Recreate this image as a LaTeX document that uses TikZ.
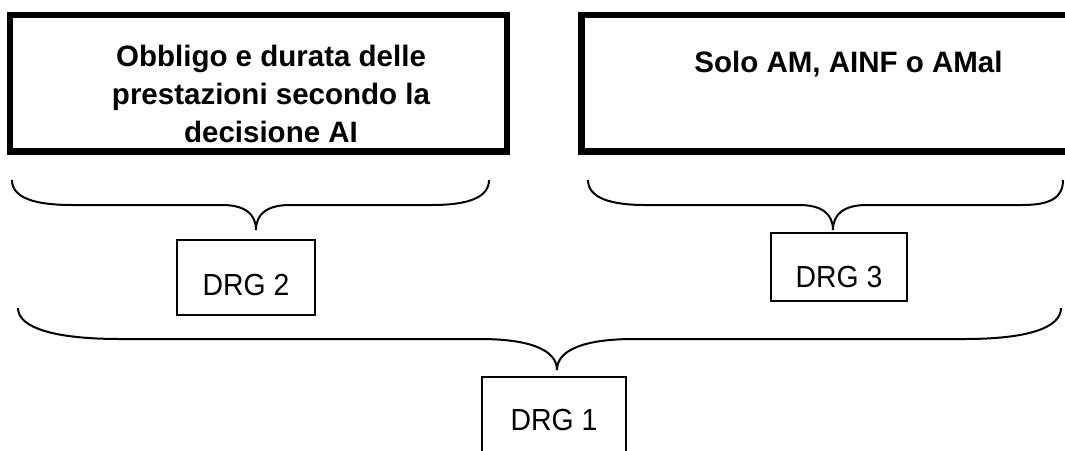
\documentclass[tikz,border=0pt]{standalone}
\usepackage{fontspec}
\setmainfont{Liberation Sans}
\newfontfamily\drgfont[FakeStretch=0.93]{Liberation Sans}
\begin{document}
\begin{tikzpicture}[x=1pt,y=-1pt,
  bigbox/.style={draw, line width=6.5pt, inner sep=0pt},
  drgbox/.style={draw, line width=1.8pt, inner sep=0pt, font=\drgfont\fontsize{30.5}{36}\selectfont},
  bracepath/.style={line width=2pt},
  headtext/.style={font=\bfseries\fontsize{29.5}{38}\selectfont, align=center, inner sep=0pt}]
\useasboundingbox (0,0) rectangle (1065,450);
\clip (0,0) rectangle (1065,450);
% big boxes
\node[bigbox, minimum width=497pt, minimum height=136.5pt] (box1) at (258.5,83.25) {};
\node[bigbox, minimum width=498.5pt, minimum height=136.5pt] (box2) at (830.75,83.25) {};
\node[headtext] (t1) at (271,93.5) {Obbligo e durata delle\\prestazioni secondo la\\decisione AI};
\node[headtext, anchor=base] (t2) at (848.5,72) {Solo AM, AINF o AMal};
% DRG boxes
\node[drgbox, minimum width=138pt, minimum height=75pt, text height=35pt, text depth=0pt] (drg2) at (246,277.5) {DRG 2};
\node[drgbox, minimum width=136pt, minimum height=68pt, text height=40pt, text depth=0pt] (drg3) at (839,267) {DRG 3};
\node[drgbox, minimum width=144pt, minimum height=103pt, text height=22pt, text depth=19pt] (drg1) at (554,428.5) {DRG 1};
% braces
\draw[bracepath] (12,180) .. controls (12,198) and (35,205) .. (72,205) -- (222,205)
  .. controls (245,205) and (256,214) .. (256,230)
  .. controls (256,214) and (267,205) .. (290,205) -- (432,205)
  .. controls (467,205) and (489,198) .. (489,180);
\draw[bracepath] (588,180) .. controls (588,198) and (611,205) .. (645,205) -- (799,205)
  .. controls (822,205) and (833,214) .. (833,230)
  .. controls (833,214) and (844,205) .. (867,205) -- (1022,205)
  .. controls (1050,205) and (1063,198) .. (1063,180);
\draw[bracepath] (18,308) .. controls (18,328) and (55,339) .. (120,339) -- (480,339)
  .. controls (530,339) and (557,350) .. (557,370)
  .. controls (557,350) and (584,339) .. (634,339) -- (965,339)
  .. controls (1027,339) and (1061,328) .. (1061,308);
\end{tikzpicture}
\end{document}
